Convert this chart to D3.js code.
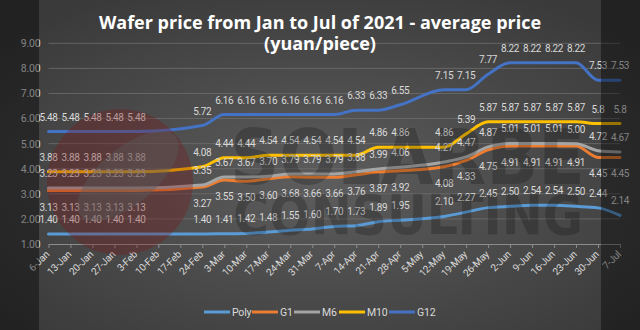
<!DOCTYPE html>
<html><head><meta charset="utf-8">
<script src="https://cdn.jsdelivr.net/npm/d3@7"></script>
<style>html,body{margin:0;padding:0;background:#333;}svg{display:block;}</style>
</head><body>
<svg id="c" width="640" height="330"></svg>
<script>
const categories = ["6-Jan","13-Jan","20-Jan","27-Jan","3-Feb","10-Feb","17-Feb","24-Feb","3-Mar","10-Mar","17-Mar","24-Mar","31-Mar","7-Apr","14-Apr","21-Apr","28-Apr","5-May","12-May","19-May","26-May","2-Jun","9-Jun","16-Jun","23-Jun","30-Jun","7-Jul"];
const poly = [1.40,1.40,1.40,1.40,1.40,null,null,1.40,1.41,1.42,1.48,1.55,1.60,1.70,1.73,1.89,1.95,null,2.10,2.27,2.45,2.50,2.54,2.54,2.50,2.44,2.14];
const g1   = [3.13,3.13,3.13,3.13,3.13,null,null,3.27,3.55,3.50,3.60,3.68,3.66,3.66,3.76,3.87,3.92,null,4.08,4.33,4.75,4.91,4.91,4.91,4.91,4.45,4.45];
const m6   = [3.23,3.23,3.23,3.23,3.23,null,null,3.35,3.67,3.67,3.70,3.79,3.79,3.79,3.88,3.99,4.06,null,4.27,4.47,4.87,5.01,5.01,5.01,5.00,4.72,4.67];
const m10  = [3.88,3.88,3.88,3.88,3.88,null,null,4.08,4.44,4.44,4.54,4.54,4.54,4.54,4.54,4.86,4.86,null,4.86,5.39,5.87,5.87,5.87,5.87,5.87,5.80,5.80];
const g12  = [5.48,5.48,5.48,5.48,5.48,null,null,5.72,6.16,6.16,6.16,6.16,6.16,6.16,6.33,6.33,6.55,null,7.15,7.15,7.77,8.22,8.22,8.22,8.22,7.53,7.53];
const seriesNames = ["Poly","G1","M6","M10","G12"];
const yTicks = [1,2,3,4,5,6,7,8,9];
const titleLines = ["Wafer price from Jan to Jul of 2021 - average price","(yuan/piece)"];

const seriesValues = [poly,g1,m6,m10,g12];
const colors = ["#5b9bd5","#ed7d31","#a5a5a5","#ffc000","#4472c4"];
const labelBelow = [false,true,false,false,false];
const FONT = "Roboto, 'Liberation Sans', sans-serif";

const svg = d3.select("#c");
const W = 640, H = 330;
const defs = svg.append("defs");
const rg = defs.append("radialGradient").attr("id","bg").attr("cx","50%").attr("cy","55%").attr("r","65%");
rg.append("stop").attr("offset","0%").attr("stop-color","#5d5d5d");
rg.append("stop").attr("offset","100%").attr("stop-color","#3a3a3a");
svg.append("rect").attr("width",W).attr("height",H).attr("fill","url(#bg)");

const x = d3.scalePoint().domain(categories).range([48.5,620]).padding(0);
const y = d3.scaleLinear().domain([1,9]).range([244,43.3]);

// gridlines
svg.append("g").selectAll("line").data(yTicks.slice(1)).join("line")
  .attr("x1",48.5).attr("x2",620).attr("y1",d=>y(d)).attr("y2",d=>y(d))
  .attr("stroke","#6e6e6e").attr("stroke-width",0.8);

// y axis labels
const yAxis = d3.axisLeft(y).tickValues(yTicks).tickFormat(d3.format(".2f")).tickSize(0).tickPadding(8);
const ya = svg.append("g").attr("transform","translate(48.5,0)").call(yAxis);
ya.select(".domain").remove();
ya.selectAll("text").attr("fill","#d9d9d9").style("font-family",FONT).style("font-size","10.5px").style("letter-spacing","-0.2px");

// x axis
const xAxis = d3.axisBottom(x).tickSize(4).tickSizeOuter(0);
const xa = svg.append("g").attr("transform",`translate(0,${y(1)})`).call(xAxis);
xa.select(".domain").attr("stroke","#8c8c8c");
xa.selectAll(".tick line").attr("stroke","#8c8c8c");
xa.selectAll("text").attr("fill","#d9d9d9").style("font-family",FONT).style("font-size","10px").style("letter-spacing","-0.2px")
  .attr("text-anchor","end").attr("dy",null).attr("y",null)
  .attr("transform","translate(1,11) rotate(-45)");

// lines
const line = d3.line().x(d=>x(d.c)).y(d=>y(d.v)).curve(d3.curveMonotoneX);
seriesValues.forEach((vals,i)=>{
  const pts = categories.map((c,j)=>({c,v:vals[j]})).filter(d=>d.v!=null);
  svg.append("path").datum(pts).attr("d",line).attr("fill","none")
    .attr("stroke",colors[i]).attr("stroke-width",3).attr("stroke-linejoin","round").attr("stroke-linecap","round");
});

// labels
const fmt = v => (v===5.8) ? "5.8" : v.toFixed(2);
seriesValues.forEach((vals,i)=>{
  const pts = categories.map((c,j)=>({c,v:vals[j]})).filter(d=>d.v!=null);
  svg.append("g").selectAll("text").data(pts).join("text")
    .attr("x",d=>x(d.c)).attr("y",d=>y(d.v)+(labelBelow[i]?20:-11))
    .attr("text-anchor","middle").attr("fill","#d9d9d9")
    .style("font-family",FONT).style("font-size","10px").style("letter-spacing","-0.35px")
    .text(d=>fmt(d.v));
});

// watermark
const wm = svg.append("g").attr("pointer-events","none");
wm.append("circle").attr("cx",120).attr("cy",182).attr("r",73).attr("fill","#7a1515").attr("opacity",0.32);
wm.append("ellipse").attr("cx",128).attr("cy",176).attr("rx",62).attr("ry",28)
  .attr("transform","rotate(-40,128,176)").attr("fill","#5a5a5a").attr("opacity",0.4);
wm.append("text").attr("x",230).attr("y",184).attr("textLength",355).attr("lengthAdjust","spacingAndGlyphs")
  .style("font-family","'DejaVu Sans', sans-serif").style("font-weight","bold").style("font-size","76px")
  .attr("fill","#000").attr("opacity",0.2).text("SOLARBE");
wm.append("text").attr("x",233).attr("y",234).attr("textLength",350).attr("lengthAdjust","spacingAndGlyphs")
  .style("font-family","'DejaVu Sans', sans-serif").style("font-weight","bold").style("font-size","56px")
  .attr("fill","#000").attr("opacity",0.2).text("CONSULTING");

// title
svg.append("g").selectAll("text").data(titleLines).join("text")
  .attr("x",320).attr("y",(d,i)=>29+i*21).attr("text-anchor","middle").attr("fill","#ffffff")
  .style("font-family","'Open Sans', sans-serif").style("font-weight","bold").style("font-size","18px")
  .text(d=>d);

// legend
const legX = [204,252,294,339,389];
const lg = svg.append("g").selectAll("g").data(seriesNames).join("g")
  .attr("transform",(d,i)=>`translate(${legX[i]},312)`);
lg.append("line").attr("x1",0).attr("x2",26).attr("y1",0).attr("y2",0).attr("stroke",(d,i)=>colors[i]).attr("stroke-width",3);
lg.append("text").attr("x",28).attr("y",4).attr("fill","#d9d9d9")
  .style("font-family",FONT).style("font-size","10.5px").style("letter-spacing","-0.2px").text(d=>d);

// dark side panels
svg.append("rect").attr("x",0).attr("y",0).attr("width",39).attr("height",H).attr("fill","#000").attr("opacity",0.4);
svg.append("rect").attr("x",601).attr("y",0).attr("width",39).attr("height",H).attr("fill","#000").attr("opacity",0.4);
</script>
</body></html>
